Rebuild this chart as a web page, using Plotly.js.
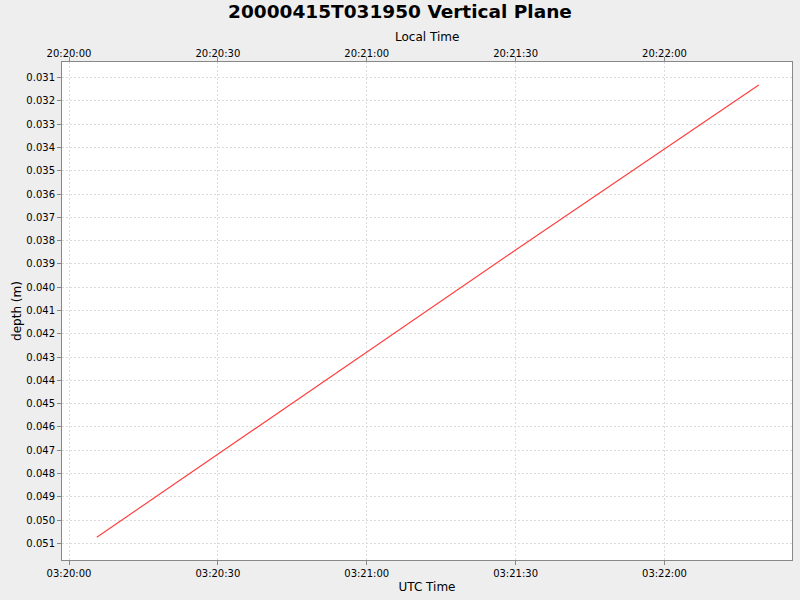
<!DOCTYPE html>
<html>
<head>
<meta charset="utf-8">
<script src="https://cdn.plot.ly/plotly-3.0.1.min.js"></script>
<style>html,body{margin:0;padding:0;background:#eeeeee;}#chart{width:800px;height:600px;}</style>
</head>
<body>
<div id="chart"></div>
<script>
// Data
const utcTimes = ['2000-04-15 03:20:05.6', '2000-04-15 03:21:00', '2000-04-15 03:21:30', '2000-04-15 03:22:19'];
const depths = [0.05074, 0.04281, 0.0384, 0.03131];
const localOffsetHours = -7;
const chartTitle = '20000415T031950 Vertical Plane';

function shiftTime(s, hours) {
  const d = new Date(s.replace(' ', 'T') + 'Z');
  d.setTime(d.getTime() + hours * 3600000);
  return d.toISOString().replace('T', ' ').replace('Z', '');
}
const localTimes = utcTimes.map(t => shiftTime(t, localOffsetHours));

const utcRange = ['2000-04-15 03:19:58.59', '2000-04-15 03:22:25.7'];
const localRange = utcRange.map(t => shiftTime(t, localOffsetHours));

const font = {family: 'DejaVu Sans, sans-serif', color: '#000'};
const gridStyle = {
  showgrid: true, gridcolor: '#dcdcdc', griddash: '2px,2px', gridwidth: 1,
  zeroline: false, ticks: 'outside', ticklen: 4, tickcolor: '#888',
  showline: true, linecolor: '#888', linewidth: 1,
  tickfont: {family: 'DejaVu Sans, sans-serif', size: 10, color: '#000'}
};

const traces = [
  {x: utcTimes, y: depths, type: 'scatter', mode: 'lines',
   line: {color: '#ff4040', width: 1.2}, xaxis: 'x', yaxis: 'y', hoverinfo: 'skip'},
  {x: localTimes, y: depths, type: 'scatter', mode: 'lines',
   line: {color: 'rgba(0,0,0,0)', width: 0}, xaxis: 'x2', yaxis: 'y', hoverinfo: 'skip', showlegend: false}
];

const layout = {
  width: 800, height: 600,
  paper_bgcolor: '#eeeeee', plot_bgcolor: '#ffffff',
  margin: {l: 62, r: 8, t: 62, b: 40},
  showlegend: false,
  font: font,
  title: {text: '<b>' + chartTitle + '</b>', font: {family: 'DejaVu Sans, sans-serif', size: 18.5, color: '#000'},
          x: 0.5, xanchor: 'center', y: 0.981, yanchor: 'middle'},
  xaxis: Object.assign({}, gridStyle, {
    type: 'date', range: utcRange, tickformat: '%H:%M:%S', dtick: 30000,
    tick0: '2000-04-15 03:20:00', side: 'bottom',
    title: {text: 'UTC Time', font: {family: 'DejaVu Sans, sans-serif', size: 12}, standoff: 4}
  }),
  xaxis2: Object.assign({}, gridStyle, {
    type: 'date', range: localRange, tickformat: '%H:%M:%S', dtick: 30000,
    tick0: '2000-04-14 20:20:00', side: 'top', overlaying: 'x', anchor: 'y', showgrid: false,
    ticklabelstandoff: -4
  }),
  yaxis: Object.assign({}, gridStyle, {
    range: [0.051717, 0.030326], dtick: 0.001, tick0: 0.031, tickformat: '.3f', mirror: true,
    title: {text: 'depth (m)', font: {family: 'DejaVu Sans, sans-serif', size: 12}, standoff: 2}
  }),
  annotations: [{
    text: 'Local Time', xref: 'paper', yref: 'paper', x: 0.5, y: 1.0502,
    xanchor: 'center', yanchor: 'middle', showarrow: false,
    font: {family: 'DejaVu Sans, sans-serif', size: 12, color: '#000'}
  }]
};

Plotly.newPlot('chart', traces, layout, {displayModeBar: false, staticPlot: true});
</script>
</body>
</html>
